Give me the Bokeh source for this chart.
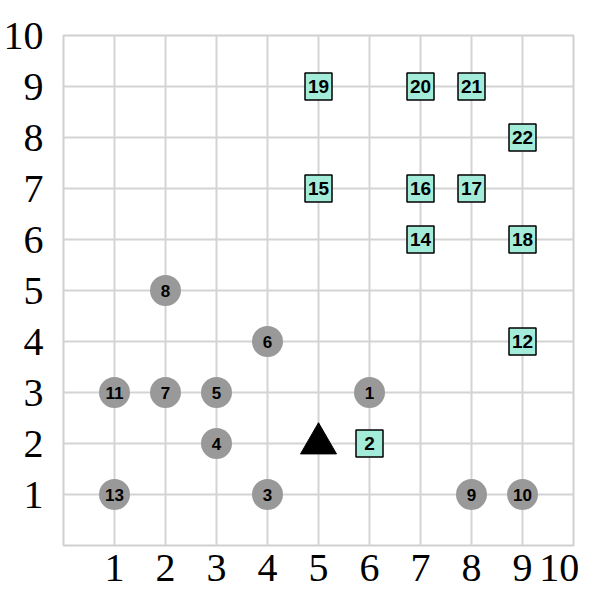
from bokeh.plotting import figure
from bokeh.models import ColumnDataSource, FixedTicker, Range1d
from bokeh.embed import file_html
from bokeh.resources import INLINE
from bokeh.core.properties import value

# gray circles
circle_ids = ["1", "3", "4", "5", "6", "7", "8", "9", "10", "11", "13"]
circle_x = [6, 4, 3, 3, 4, 2, 2, 8, 9, 1, 1]
circle_y = [3, 1, 2, 3, 4, 3, 5, 1, 1, 3, 1]

# aquamarine squares
square_ids = ["2", "12", "14", "15", "16", "17", "18", "19", "20", "21", "22"]
square_x = [6, 9, 7, 5, 7, 8, 9, 5, 7, 8, 9]
square_y = [2, 4, 6, 7, 7, 7, 6, 9, 9, 9, 8]

# black triangle
tri_x = [5]
tri_y = [2]

x_ticks = [1, 2, 3, 4, 5, 6, 7, 8, 9, 9.72]
x_tick_labels = ["1", "2", "3", "4", "5", "6", "7", "8", "9", "10"]
y_ticks = [1, 2, 3, 4, 5, 6, 7, 8, 9, 10]
grid_ticks = [1, 2, 3, 4, 5, 6, 7, 8, 9]

p = figure(width=603, height=616, output_backend="svg", toolbar_location=None,
           x_range=Range1d(0, 10), y_range=Range1d(0, 10))
p.min_border_left = 63
p.min_border_right = 30
p.min_border_top = 35
p.min_border_bottom = 71
p.background_fill_color = "white"
p.border_fill_color = "white"
p.outline_line_color = "#d0d0d0"
p.outline_line_width = 2

for ax in (p.xaxis[0], p.yaxis[0]):
    ax.axis_line_color = None
    ax.major_tick_line_color = None
    ax.minor_tick_line_color = None
    ax.major_tick_out = 0
    ax.major_tick_in = 0
    ax.major_label_text_font = "Liberation Serif"
    ax.major_label_text_font_size = "40px"
    ax.major_label_text_color = "black"

p.xaxis[0].ticker = FixedTicker(ticks=x_ticks)
p.xaxis[0].major_label_overrides = {t: l for t, l in zip(x_ticks, x_tick_labels)}
p.xaxis[0].major_label_standoff = 9
p.yaxis[0].ticker = FixedTicker(ticks=y_ticks)
p.yaxis[0].major_label_standoff = 20

p.xgrid[0].ticker = FixedTicker(ticks=grid_ticks)
p.ygrid[0].ticker = FixedTicker(ticks=grid_ticks)
for g in (p.xgrid[0], p.ygrid[0]):
    g.grid_line_color = "#d4d4d4"
    g.grid_line_width = 2

csrc = ColumnDataSource(dict(x=circle_x, y=circle_y, t=circle_ids))
ssrc = ColumnDataSource(dict(x=square_x, y=square_y, t=square_ids))

p.scatter("x", "y", source=csrc, marker="circle", size=31,
          fill_color="#999999", line_color=None)
p.scatter("x", "y", source=ssrc, marker="square", size=27,
          fill_color="#a3ecd9", line_color="black", line_width=1.5)
p.scatter(tri_x, tri_y, marker="triangle", size=36,
          fill_color="black", line_color="black")

p.text("x", "y", text="t", source=csrc, text_align="center", text_baseline="middle",
       text_font=value("Liberation Sans"), text_font_style="bold", text_font_size="17px",
       text_color="black")
p.text("x", "y", text="t", source=ssrc, text_align="center", text_baseline="middle",
       text_font=value("Liberation Sans"), text_font_style="bold", text_font_size="19px",
       text_color="black")

open("out.html", "w").write(file_html(p, INLINE))
